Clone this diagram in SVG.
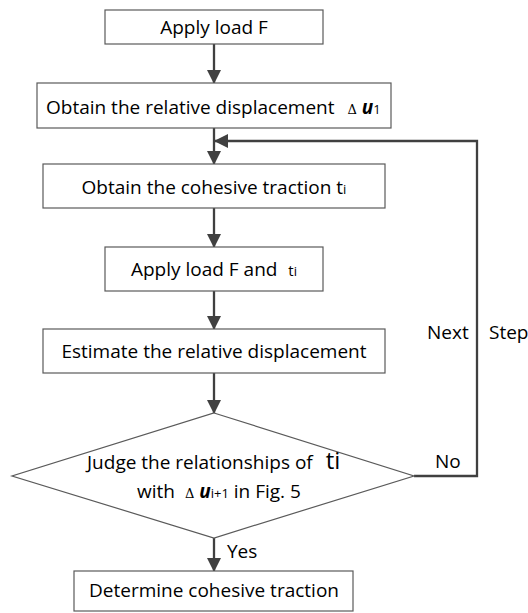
<svg xmlns="http://www.w3.org/2000/svg" width="528" height="613" viewBox="0 0 528 613">
<defs>
<marker id="ah" markerUnits="userSpaceOnUse" markerWidth="14" markerHeight="14" viewBox="0 0 14 14" refX="13" refY="7" orient="auto">
<path d="M0,0 L14,7 L0,14 Z" fill="#404040"/>
</marker>
<style>
.box{fill:#fff;stroke:#5a5a5a;stroke-width:1.2}
.t{font-family:"Open Sans","Liberation Sans",sans-serif;font-size:19px;fill:#000}
.c{fill:none;stroke:#404040;stroke-width:2.3}
.ar{marker-end:url(#ah)}
.sm{font-size:13px}
.dl{font-family:"DejaVu Serif","Liberation Serif",serif;font-size:13px}
.u{font-weight:bold;font-style:italic}
</style>
</defs>
<rect width="528" height="613" fill="#fff"/>
<g id="connectors">
<line class="c ar" x1="214" y1="44" x2="214" y2="83"/>
<line class="c ar" x1="214" y1="128" x2="214" y2="164"/>
<line class="c ar" x1="214" y1="208" x2="214" y2="247"/>
<line class="c ar" x1="214" y1="291" x2="214" y2="329"/>
<line class="c ar" x1="214" y1="373" x2="214" y2="413"/>
<line class="c ar" x1="214" y1="538" x2="214" y2="571"/>
<polyline class="c ar" points="414,476 477,476 477,141 215,141"/>
</g>
<g id="n1">
<rect class="box" x="105" y="10" width="218" height="34"/>
<text class="t" x="214" y="34" text-anchor="middle">Apply load F</text>
</g>
<g id="n2">
<rect class="box" x="37" y="83" width="354" height="45"/>
<text class="t" x="46" y="114">Obtain the relative displacement <tspan class="dl" dx="8">Δ</tspan> <tspan class="u">u</tspan><tspan class="sm">1</tspan></text>
</g>
<g id="n3">
<rect class="box" x="43" y="164" width="342" height="44"/>
<text class="t" x="214" y="194" text-anchor="middle">Obtain the cohesive traction t<tspan class="sm">i</tspan></text>
</g>
<g id="n4">
<rect class="box" x="105" y="247" width="218" height="44"/>
<text class="t" x="214" y="276" text-anchor="middle">Apply load F and <tspan font-size="15" dx="6">t</tspan><tspan class="sm">i</tspan></text>
</g>
<g id="n5">
<rect class="box" x="43" y="329" width="342" height="44"/>
<text class="t" x="214" y="358" text-anchor="middle">Estimate the relative displacement</text>
</g>
<g id="n6">
<polygon class="box" points="214,413 414,476 214,538 12,476"/>
<text class="t" x="87" y="469">Judge the relationships of <tspan font-size="24" dx="8">ti</tspan></text>
<text class="t" x="137" y="498">with <tspan class="dl" dx="5">Δ</tspan> <tspan class="u">u</tspan><tspan class="sm">i+1</tspan> in Fig. 5</text>
</g>
<g id="n7">
<rect class="box" x="74" y="571" width="279" height="40"/>
<text class="t" x="214" y="597" text-anchor="middle">Determine cohesive traction</text>
</g>
<g id="labels">
<text class="t" x="227" y="558">Yes</text>
<text class="t" x="435" y="468">No</text>
<text class="t" x="427" y="339">Next</text>
<text class="t" x="489" y="339">Step</text>
</g>
</svg>
